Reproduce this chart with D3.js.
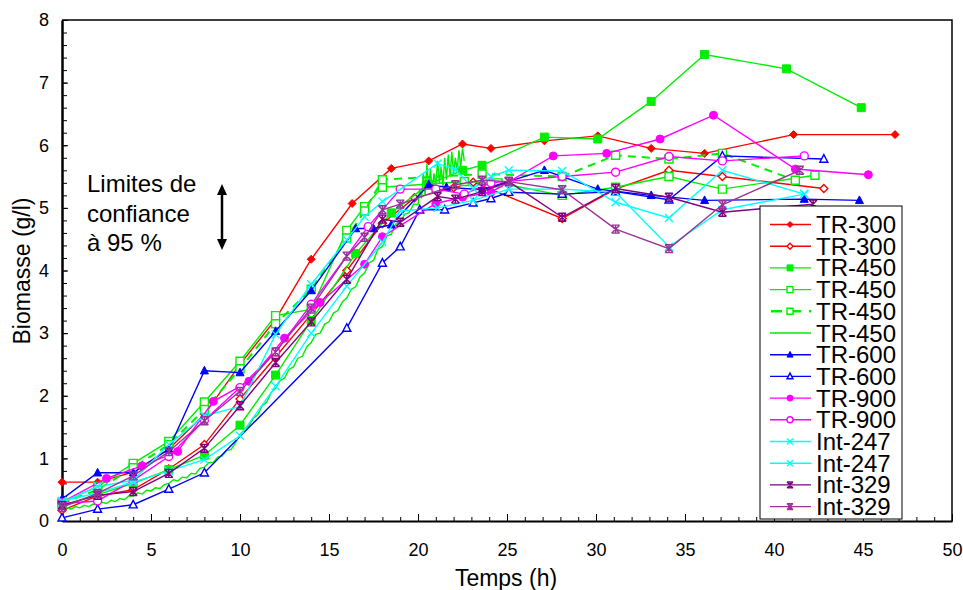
<!DOCTYPE html>
<html>
<head>
<meta charset="utf-8">
<script src="https://cdn.jsdelivr.net/npm/d3@7"></script>
<style>
  body { margin: 0; background: #fff; }
  svg text { font-family: "Liberation Sans", Arial, sans-serif; }
</style>
</head>
<body>
<div id="chart"></div>
<script>
// chart size
const width = 963;
const height = 590;

// x ticks and y ticks
const xTicks = [0, 5, 10, 15, 20, 25, 30, 35, 40, 45, 50];
const yTicks = [0, 1, 2, 3, 4, 5, 6, 7, 8];

// series data: [temps (h), biomasse (g/l)]
const tr300a = [[0,0.62],[2,0.62],[4,0.78],[6,1.15],[8,1.7],[10,2.5],[12,3.22],[14,4.18],[16.3,5.07],[18.5,5.63],[20.6,5.75],[22.5,6.02],[24.1,5.95],[27.1,6.07],[30.1,6.15],[33.1,5.95],[36.1,5.87],[41.1,6.17],[46.8,6.17]];
const tr300b = [[0,0.17],[2,0.4],[4,0.5],[6,0.83],[8,1.22],[10,1.95],[12,2.62],[14,3.3],[16,4.0],[18,4.75],[19.8,5.16],[22.0,5.32],[23.1,5.41],[28.1,4.83],[31.1,5.3],[34.1,5.6],[37.1,5.5],[42.8,5.31]];
const tr450a = [[0,0.25],[2,0.42],[4,0.6],[6,0.82],[8,1.05],[10,1.53],[12,2.33],[14,3.2],[16.5,4.27],[18.5,4.92],[20.6,5.38],[22.5,5.6],[23.6,5.68],[27.1,6.13],[30.1,6.1],[33.1,6.7],[36.1,7.45],[40.7,7.22],[44.9,6.6]];
const tr450b = [[0,0.3],[2,0.55],[4,0.92],[6,1.27],[8,1.9],[10,2.55],[12,3.28],[14,3.38],[16,4.64],[17,5.02],[18,5.33],[22.6,5.42],[24.5,5.4],[28.1,5.2],[31.1,5.33],[34.1,5.5],[37.1,5.3],[42.3,5.52]];
const tr450c = [[0,0.28],[2,0.5],[4,0.85],[6,1.22],[8,1.78],[10,2.43],[12,3.15],[14,3.7],[16,4.52],[17,4.95],[18,5.45],[23.6,5.54],[28.1,5.5],[31.1,5.84],[34.1,5.78],[37.1,5.87],[41.2,5.44]];
const tr450dT = [0,0.25,0.5,0.75,1,1.25,1.5,1.75,2,2.25,2.5,2.75,3,3.25,3.5,3.75,4,4.25,4.5,4.75,5,5.25,5.5,5.75,6,6.25,6.5,6.75,7,7.25,7.5,7.75,8,8.25,8.5,8.75,9,9.25,9.5,9.75,10,10.25,10.5,10.75,11,11.25,11.5,11.75,12,12.25,12.5,12.75,13,13.25,13.5,13.75,14,14.25,14.5,14.75,15,15.25,15.5,15.75,16,16.25,16.5,16.75,17,17.25,17.5,17.75,18,18.25,18.5,18.75,19,19.25,19.5,19.75,20,20.1,20.2,20.3,20.4,20.5,20.6,20.7,20.8,20.9,21,21.1,21.2,21.3,21.4,21.5,21.6,21.7,21.8,21.9,22,22.1,22.2,22.3,22.4,22.5,22.6];
const tr450dV = [0.20,0.22,0.19,0.23,0.21,0.25,0.23,0.27,0.26,0.30,0.28,0.33,0.31,0.36,0.34,0.40,0.40,0.45,0.43,0.49,0.48,0.53,0.52,0.58,0.60,0.66,0.64,0.70,0.69,0.76,0.75,0.84,0.86,0.93,0.94,1.02,1.04,1.13,1.14,1.25,1.38,1.46,1.52,1.64,1.70,1.84,1.90,2.05,2.12,2.24,2.28,2.42,2.46,2.60,2.63,2.78,2.85,2.98,3.00,3.14,3.18,3.32,3.36,3.50,3.56,3.70,3.74,3.90,3.96,4.12,4.16,4.34,4.38,4.55,4.58,4.74,4.76,4.90,4.92,5.06,5.05,5.30,5.15,5.55,5.20,5.70,5.30,5.62,5.25,5.55,5.35,5.75,5.40,5.65,5.35,5.80,5.45,5.85,5.50,5.90,5.55,5.80,5.60,5.92,5.65,5.95,5.75];
const tr600a = [[0,0.35],[2,0.77],[4,0.77],[6,1.15],[8,2.4],[10,2.37],[12,3.03],[14,3.68],[16.5,4.67],[17.5,4.67],[18.5,4.73],[20.6,5.37],[21.6,5.33],[23.6,5.29],[27.1,5.6],[30.1,5.3],[33.1,5.2],[36.1,5.12],[41.7,5.14],[44.8,5.12]];
const tr600b = [[0,0.05],[2,0.19],[4,0.26],[6,0.51],[8,0.77],[16,3.08],[18,4.12],[19,4.38],[20.1,4.97],[21.5,4.97],[23.1,5.08],[24.1,5.15],[25.1,5.25],[28.1,5.22],[31.1,5.26],[34.1,5.13],[37.1,5.83],[42.8,5.78]];
const tr900a = [[0,0.3],[2.5,0.68],[4.5,0.88],[6.5,1.11],[8.5,1.91],[10.5,2.23],[12.5,2.92],[14.5,3.49],[17,4.1],[18,4.54],[21,5.07],[22.5,5.17],[24.1,5.25],[27.6,5.83],[30.6,5.87],[33.6,6.1],[36.6,6.48],[41.2,5.62],[45.3,5.53]];
const tr900b = [[0,0.28],[2,0.32],[4,0.65],[6,1.03],[8,1.61],[10,2.13],[12,2.7],[14,3.46],[17.2,4.7],[19,5.3],[21,5.3],[22.6,5.22],[24.1,5.4],[28.1,5.5],[31.1,5.57],[34.1,5.82],[37.1,5.75],[41.7,5.83]];
const int247a = [[0,0.3],[2,0.55],[4,0.65],[6,1.22],[8,1.68],[10,1.83],[12,2.98],[14,3.78],[16,4.49],[17,4.86],[18,5.1],[21.1,5.71],[22.1,5.61],[23.1,5.31],[24.1,5.5],[25.1,5.6],[28.1,5.59],[31.1,5.09],[34.1,4.84],[37.1,5.6],[41.7,5.22]];
const int247b = [[0,0.32],[2,0.45],[4,0.62],[6,0.8],[8,0.98],[10,1.36],[12,2.15],[14,3.0],[16,3.75],[18,4.45],[19,4.95],[21.1,5.0],[23.1,5.12],[25.1,5.3],[28.1,5.3],[31.1,5.25],[34.1,4.38],[37.1,4.97],[41.7,5.22]];
const int329a = [[0,0.25],[2,0.41],[4,0.47],[6,0.76],[8,1.16],[10,1.84],[12,2.53],[14,3.18],[16,3.86],[18,4.82],[19,4.77],[21.1,5.18],[22.1,5.14],[23.6,5.26],[25.1,5.42],[28.1,4.85],[31.1,5.31],[34.1,5.17],[37.1,4.93],[42.2,5.06]];
const int329b = [[0,0.22],[2,0.44],[4,0.72],[6,1.11],[8,1.6],[10,2.07],[12,2.7],[14,3.4],[16,4.23],[17,4.53],[18,4.97],[19,5.06],[22.1,5.37],[23.6,5.44],[25.1,5.42],[28.1,5.29],[31.1,4.66],[34.1,4.35],[37.1,5.05],[41.45,5.6]];

const tr450d = tr450dT.map((t, i) => [t, tr450dV[i]]);

const labels = ["TR-300","TR-300","TR-450","TR-450","TR-450","TR-450","TR-600","TR-600","TR-900","TR-900","Int-247","Int-247","Int-329","Int-329"];

const series = [
  { data: tr300a, color: "#ff0000", marker: "diamond", fill: true },
  { data: tr300b, color: "#ff0000", marker: "diamond", fill: false },
  { data: tr450a, color: "#00ee00", marker: "square", fill: true },
  { data: tr450b, color: "#00ee00", marker: "square", fill: false },
  { data: tr450c, color: "#00ee00", marker: "square", fill: false, dash: "8,6" },
  { data: tr450d, color: "#00ee00", marker: null },
  { data: tr600a, color: "#0000ff", marker: "triangle", fill: true },
  { data: tr600b, color: "#0000ff", marker: "triangle", fill: false },
  { data: tr900a, color: "#ff00ff", marker: "circle", fill: true },
  { data: tr900b, color: "#ff00ff", marker: "circle", fill: false },
  { data: int247a, color: "#00ffff", marker: "x" },
  { data: int247b, color: "#00ffff", marker: "x" },
  { data: int329a, color: "#800080", marker: "star" },
  { data: int329b, color: "#993399", marker: "star" }
];

const svg = d3.select("#chart").append("svg")
    .attr("width", width)
    .attr("height", height);

const x = d3.scaleLinear().domain([0, 50]).range([62, 952]);
const y = d3.scaleLinear().domain([0, 8]).range([521, 20]);

// frame (top and right)
svg.append("path")
    .attr("d", `M${x(0)},${y(8)}H${x(50)}V${y(0)}`)
    .attr("fill", "none")
    .attr("stroke", "#000")
    .attr("stroke-width", 1.5);

// x axis, minor then major
svg.append("g")
    .attr("transform", `translate(0,${y(0)})`)
    .call(d3.axisBottom(x).tickValues(d3.range(0, 51, 1)).tickSize(-4).tickSizeOuter(0).tickFormat(""))
    .call(g => g.selectAll("line").attr("stroke-width", 1));
svg.append("g")
    .attr("transform", `translate(0,${y(0)})`)
    .call(d3.axisBottom(x).tickValues(xTicks).tickSize(-7).tickSizeOuter(0).tickPadding(22))
    .call(g => g.select(".domain").attr("stroke-width", 2))
    .call(g => g.selectAll("text").attr("font-size", 18).attr("fill", "#000")
        .attr("font-family", "Liberation Sans, Arial, sans-serif"));

// y axis
svg.append("g")
    .attr("transform", `translate(${x(0)},0)`)
    .call(d3.axisLeft(y).tickValues(d3.range(0, 8.01, 0.2)).tickSize(-5).tickSizeOuter(0).tickFormat(""));
svg.append("g")
    .attr("transform", `translate(${x(0)},0)`)
    .call(d3.axisLeft(y).tickValues(yTicks).tickSize(-6).tickSizeOuter(0).tickPadding(13))
    .call(g => g.select(".domain").attr("stroke-width", 2.5))
    .call(g => g.selectAll("text").attr("font-size", 18).attr("fill", "#000")
        .attr("font-family", "Liberation Sans, Arial, sans-serif"));

// axis titles
svg.append("text")
    .attr("x", 506).attr("y", 586)
    .attr("text-anchor", "middle")
    .attr("font-size", 23)
    .text("Temps (h)");
svg.append("text")
    .attr("transform", "translate(30,271) rotate(-90)")
    .attr("text-anchor", "middle")
    .attr("font-size", 23)
    .text("Biomasse (g/l)");

// marker path for a given type and half size
function markerPath(type, r) {
  switch (type) {
    case "diamond": return `M0,${-r}L${r},0L0,${r}L${-r},0Z`;
    case "square": return `M${-r},${-r}H${r}V${r}H${-r}Z`;
    case "triangle": return `M0,${-r * 1.1}L${r},${r * 0.8}L${-r},${r * 0.8}Z`;
    case "circle": return `M${r},0A${r},${r} 0 1,1 ${-r},0A${r},${r} 0 1,1 ${r},0Z`;
    case "x": return `M${-r},${-r}L${r},${r}M${-r},${r}L${r},${-r}`;
    case "star": return `M${-r},${-r}L${r},${r}M${-r},${r}L${r},${-r}M0,${-r}V${r}M${-r},${-r}H${r}M${-r},${r}H${r}`;
  }
  return "";
}

function drawMarkers(g, s, pts, r) {
  if (!s.marker) return;
  const open = s.marker === "x" || s.marker === "star";
  g.selectAll(null)
    .data(pts)
    .join("path")
    .attr("transform", d => `translate(${d[0]},${d[1]})`)
    .attr("d", markerPath(s.marker, r))
    .attr("fill", open ? "none" : (s.fill ? s.color : "#fff"))
    .attr("stroke", s.color)
    .attr("stroke-width", s.fill ? 1 : 1.4);
}

const line = d3.line().x(d => x(d[0])).y(d => y(d[1]));

const plot = svg.append("g");
series.forEach(s => {
  const g = plot.append("g");
  g.append("path")
      .datum(s.data)
      .attr("d", line)
      .attr("fill", "none")
      .attr("stroke", s.color)
      .attr("stroke-width", s.dash ? 2 : 1.4)
      .attr("stroke-dasharray", s.dash || null);
  drawMarkers(g, s, s.data.map(d => [x(d[0]), y(d[1])]), 4);
});

// confidence note with double arrow
const note = svg.append("g");
["Limites de", "confiance", "à 95 %"].forEach((t, i) => {
  note.append("text")
      .attr("x", 87).attr("y", 192 + i * 29.5)
      .attr("font-size", 24)
      .text(t);
});
note.append("line")
    .attr("x1", 222).attr("x2", 222)
    .attr("y1", 190).attr("y2", 244)
    .attr("stroke", "#000").attr("stroke-width", 2.5);
note.append("path")
    .attr("d", "M222,184L217,195L227,195Z M222,250L217,239L227,239Z")
    .attr("fill", "#000");

// legend
const legend = svg.append("g");
legend.append("rect")
    .attr("x", 760).attr("y", 206)
    .attr("width", 142).attr("height", 313)
    .attr("fill", "#fff").attr("stroke", "#000").attr("stroke-width", 1);

series.forEach((s, i) => {
  const ly = 224.5 + i * 21.7;
  const g = legend.append("g");
  g.append("line")
      .attr("x1", s.dash ? 771 : 770).attr("x2", 811)
      .attr("y1", ly).attr("y2", ly)
      .attr("stroke", s.color)
      .attr("stroke-width", s.dash ? 2.5 : 1.4)
      .attr("stroke-dasharray", s.dash ? "11,8" : null);
  drawMarkers(g, s, [[790, ly]], 3);
  g.append("text")
      .attr("x", 816).attr("y", ly + 8.5)
      .attr("font-size", 24)
      .text(labels[i]);
});
</script>
</body>
</html>
